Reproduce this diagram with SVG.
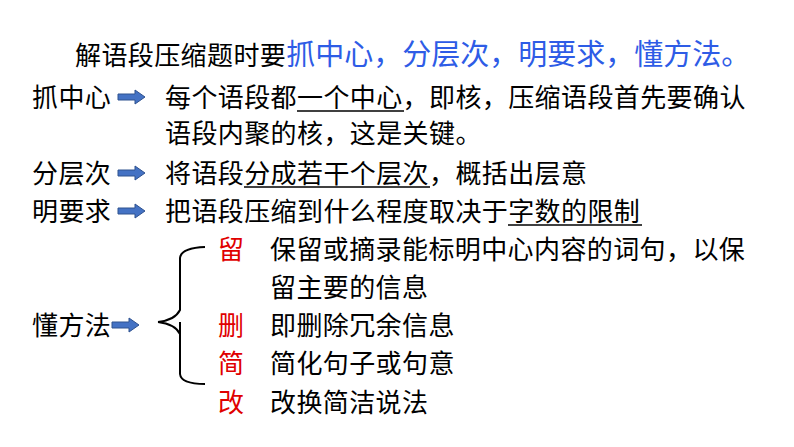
<svg xmlns="http://www.w3.org/2000/svg" width="794" height="447" viewBox="0 0 794 447">
<defs>
<style>
text{font-family:"Liberation Sans","Noto Sans CJK SC",sans-serif;font-size:26px;letter-spacing:0.4px;fill:#000}
.b{fill:#2E5CE6;font-size:29px;letter-spacing:0}
.r{fill:#E00000}
.u{stroke:#000;stroke-width:1.5}
</style>
<path id="arr" d="M0,-3 H17 V-7 L27,0 L17,7 V3 H0 Z" fill="#4472C4" stroke="#2F528F" stroke-width="1"/>
</defs>
<rect width="794" height="447" fill="#fff"/>
<g id="title"><text x="75" y="65">解语段压缩题时要<tspan class="b">抓中心，分层次，明要求，懂方法。</tspan></text></g>
<g id="n1"><text x="32" y="107">抓中心</text><use href="#arr" x="118" y="97"/>
<text x="165" y="107">每个语段都一个中心，即核，压缩语段首先要确认</text>
<line class="u" x1="297" y1="111" x2="404" y2="111"/>
<text x="165" y="143">语段内聚的核，这是关键。</text></g>
<g id="n2"><text x="32" y="183">分层次</text><use href="#arr" x="118" y="173"/>
<text x="165" y="183">将语段分成若干个层次，概括出层意</text>
<line class="u" x1="244" y1="187" x2="430" y2="187"/></g>
<g id="n3"><text x="32" y="221">明要求</text><use href="#arr" x="118" y="211"/>
<text x="165" y="221">把语段压缩到什么程度取决于字数的限制</text>
<line class="u" x1="508" y1="225" x2="642" y2="225"/></g>
<g id="n4"><text x="32" y="335">懂方法</text><use href="#arr" x="112" y="325"/>
<path d="M158,322 Q175,320 180,310 V258 Q181,248 205,247 M180,322 V374 Q181,384 205,384 M158,322 Q175,324 180,334" fill="none" stroke="#000" stroke-width="2"/>
<text class="r" x="218" y="259">留</text><text x="270" y="259">保留或摘录能标明中心内容的词句，以保</text>
<text x="270" y="297">留主要的信息</text>
<text class="r" x="218" y="335">删</text><text x="270" y="335">即删除冗余信息</text>
<text class="r" x="218" y="373">简</text><text x="270" y="373">简化句子或句意</text>
<text class="r" x="218" y="412">改</text><text x="270" y="412">改换简洁说法</text></g>
</svg>
